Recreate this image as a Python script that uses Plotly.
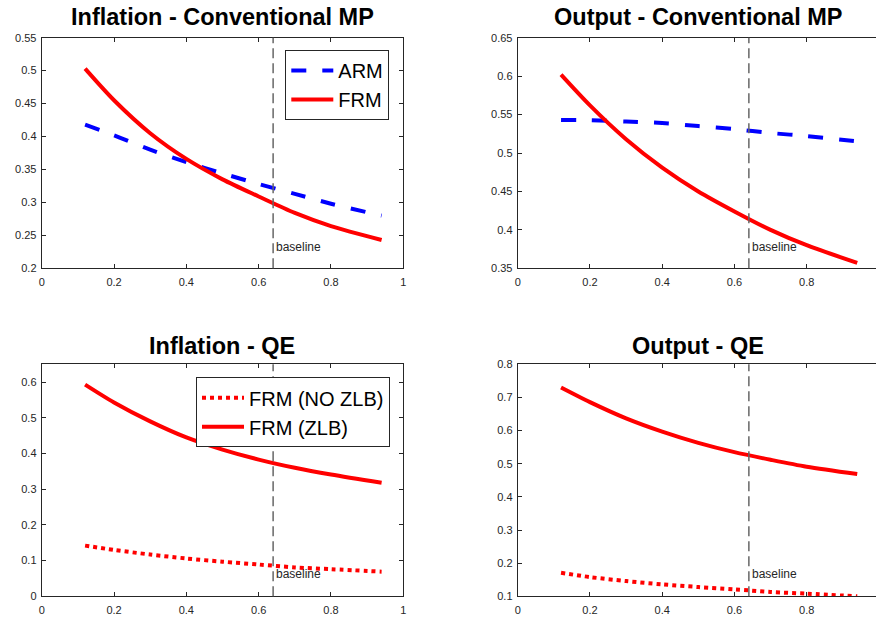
import plotly.graph_objects as go

# ---------------- data ----------------
x_vals = [0.12, 0.2, 0.3, 0.4, 0.5, 0.6, 0.7, 0.8, 0.94]
baseline_x = 0.64

infl_mp_arm = [0.418, 0.402, 0.380, 0.361, 0.344, 0.328, 0.313, 0.298, 0.280]
infl_mp_frm = [0.503, 0.455, 0.405, 0.366, 0.335, 0.309, 0.284, 0.264, 0.243]

out_mp_arm = [0.543, 0.5425, 0.541, 0.539, 0.535, 0.531, 0.526, 0.522, 0.515]
out_mp_frm = [0.602, 0.562, 0.518, 0.481, 0.450, 0.424, 0.400, 0.380, 0.357]

infl_qe_nozlb = [0.142, 0.130, 0.117, 0.106, 0.097, 0.089, 0.081, 0.076, 0.069]
infl_qe_zlb = [0.593, 0.543, 0.490, 0.445, 0.411, 0.383, 0.360, 0.341, 0.318]

out_qe_nozlb = [0.171, 0.158, 0.146, 0.136, 0.128, 0.121, 0.113, 0.108, 0.100]
out_qe_zlb = [0.730, 0.686, 0.637, 0.597, 0.563, 0.535, 0.512, 0.491, 0.469]

titles = ["Inflation - Conventional MP", "Output - Conventional MP",
          "Inflation - QE", "Output - QE"]

x_ticks_left = [0, 0.2, 0.4, 0.6, 0.8, 1]
x_ticks_right = [0, 0.2, 0.4, 0.6, 0.8]
y_ticks_1 = [0.2, 0.25, 0.3, 0.35, 0.4, 0.45, 0.5, 0.55]
y_ticks_2 = [0.35, 0.4, 0.45, 0.5, 0.55, 0.6, 0.65]
y_ticks_3 = [0, 0.1, 0.2, 0.3, 0.4, 0.5, 0.6]
y_ticks_4 = [0.1, 0.2, 0.3, 0.4, 0.5, 0.6, 0.7, 0.8]

# ---------------- figure ----------------
W, H = 876, 617
RED = "#FF0000"
BLUE = "#0000FF"
AX = "#262626"
FONT = "Liberation Sans"

fig = go.Figure()


def fmt(v):
    return "%g" % v


def line(x, y, color, dash, name, xa, ya, legend, show=True):
    fig.add_trace(go.Scatter(
        x=x, y=y, mode="lines", name=name,
        line=dict(color=color, width=4, dash=dash, shape="spline", smoothing=0.8),
        xaxis=xa, yaxis=ya, legend=legend, showlegend=show,
    ))


line(x_vals, infl_mp_arm, BLUE, "15px,16px", "ARM", "x", "y", "legend")
line(x_vals, infl_mp_frm, RED, "solid", "FRM", "x", "y", "legend")
line(x_vals, out_mp_arm, BLUE, "15px,16px", "ARM", "x2", "y2", "legend", False)
line(x_vals, out_mp_frm, RED, "solid", "FRM", "x2", "y2", "legend", False)
line(x_vals, infl_qe_nozlb, RED, "4px,4px", "FRM (NO ZLB)", "x3", "y3", "legend2")
line(x_vals, infl_qe_zlb, RED, "solid", "FRM (ZLB)", "x3", "y3", "legend2")
line(x_vals, out_qe_nozlb, RED, "4px,4px", "FRM (NO ZLB)", "x4", "y4", "legend2", False)
line(x_vals, out_qe_zlb, RED, "solid", "FRM (ZLB)", "x4", "y4", "legend2", False)

left_dom = [41.7 / W, 403.3 / W]
right_dom = [517.7 / W, 1.0]
top_dom = [1 - 268.3 / H, 1 - 37.7 / H]
bot_dom = [1 - 596.3 / H, 1 - 364.3 / H]
right_max = (W - 517.7) / (878.9 - 517.7)


def xaxis(dom, rng, ticks, anchor):
    return dict(domain=dom, range=rng, anchor=anchor, tickvals=ticks,
                ticktext=[fmt(t) for t in ticks], ticks="inside", ticklen=4,
                tickcolor=AX, showline=True, linecolor=AX, linewidth=1,
                mirror="ticks", showgrid=False, zeroline=False, automargin=False,
                ticklabelstandoff=3,
                tickfont=dict(family=FONT, size=11, color=AX))


def yaxis(dom, rng, ticks, anchor, mirror="ticks"):
    return dict(domain=dom, range=rng, anchor=anchor, tickvals=ticks,
                ticktext=[fmt(t) for t in ticks], ticks="inside", ticklen=4,
                tickcolor=AX, showline=True, linecolor=AX, linewidth=1,
                mirror=mirror, showgrid=False, zeroline=False, automargin=False,
                ticklabelstandoff=2,
                tickfont=dict(family=FONT, size=11, color=AX))


legend_common = dict(bgcolor="white", bordercolor=AX, borderwidth=1,
                     font=dict(family=FONT, size=20, color="black"),
                     xanchor="right", yanchor="top", tracegroupgap=0,
                     itemwidth=42)

fig.update_layout(
    template="none",
    width=W, height=H, margin=dict(l=0, r=0, t=0, b=0, pad=0, autoexpand=False),
    paper_bgcolor="white", plot_bgcolor="white",
    xaxis=xaxis(left_dom, [0, 1], x_ticks_left, "y"),
    yaxis=yaxis(top_dom, [0.2, 0.55], y_ticks_1, "x"),
    xaxis2=xaxis(right_dom, [0, right_max], x_ticks_right, "y2"),
    yaxis2=yaxis(top_dom, [0.35, 0.65], y_ticks_2, "x2", mirror=False),
    xaxis3=xaxis(left_dom, [0, 1], x_ticks_left, "y3"),
    yaxis3=yaxis(bot_dom, [0, 0.65], y_ticks_3, "x3"),
    xaxis4=xaxis(right_dom, [0, right_max], x_ticks_right, "y4"),
    yaxis4=yaxis(bot_dom, [0.1, 0.8], y_ticks_4, "x4", mirror=False),
    legend=dict(x=389.3 / W, y=1 - 50 / H, **legend_common),
    legend2=dict(x=390 / W, y=1 - 377.3 / H, **legend_common),
    showlegend=True,
)

# baseline vertical lines and labels
for xa, ya in [("x", "y"), ("x2", "y2"), ("x3", "y3"), ("x4", "y4")]:
    fig.add_shape(type="line", xref=xa, yref=ya + " domain",
                  x0=baseline_x, x1=baseline_x, y0=0, y1=1,
                  line=dict(color="#666666", width=1.5, dash="10px,5px"), layer="above")
    fig.add_annotation(x=baseline_x, xref=xa, y=0.094, yref=ya + " domain",
                       text="baseline", showarrow=False, xanchor="left", yanchor="middle",
                       xshift=1, font=dict(family=FONT, size=12, color=AX))

# titles
lc = sum(left_dom) / 2
rc = (517.7 + 878.9) / 2 / W
centers = [(lc, 1 - 17 / H), (rc, 1 - 17 / H), (lc, 1 - 345.5 / H), (rc, 1 - 345.5 / H)]
for t, (cx, cy) in zip(titles, centers):
    fig.add_annotation(x=cx, y=cy, xref="paper", yref="paper", text="<b>" + t + "</b>",
                       showarrow=False, xanchor="center", yanchor="middle",
                       font=dict(family=FONT, size=23.5, color="black"))

fig.write_html("out.html")
